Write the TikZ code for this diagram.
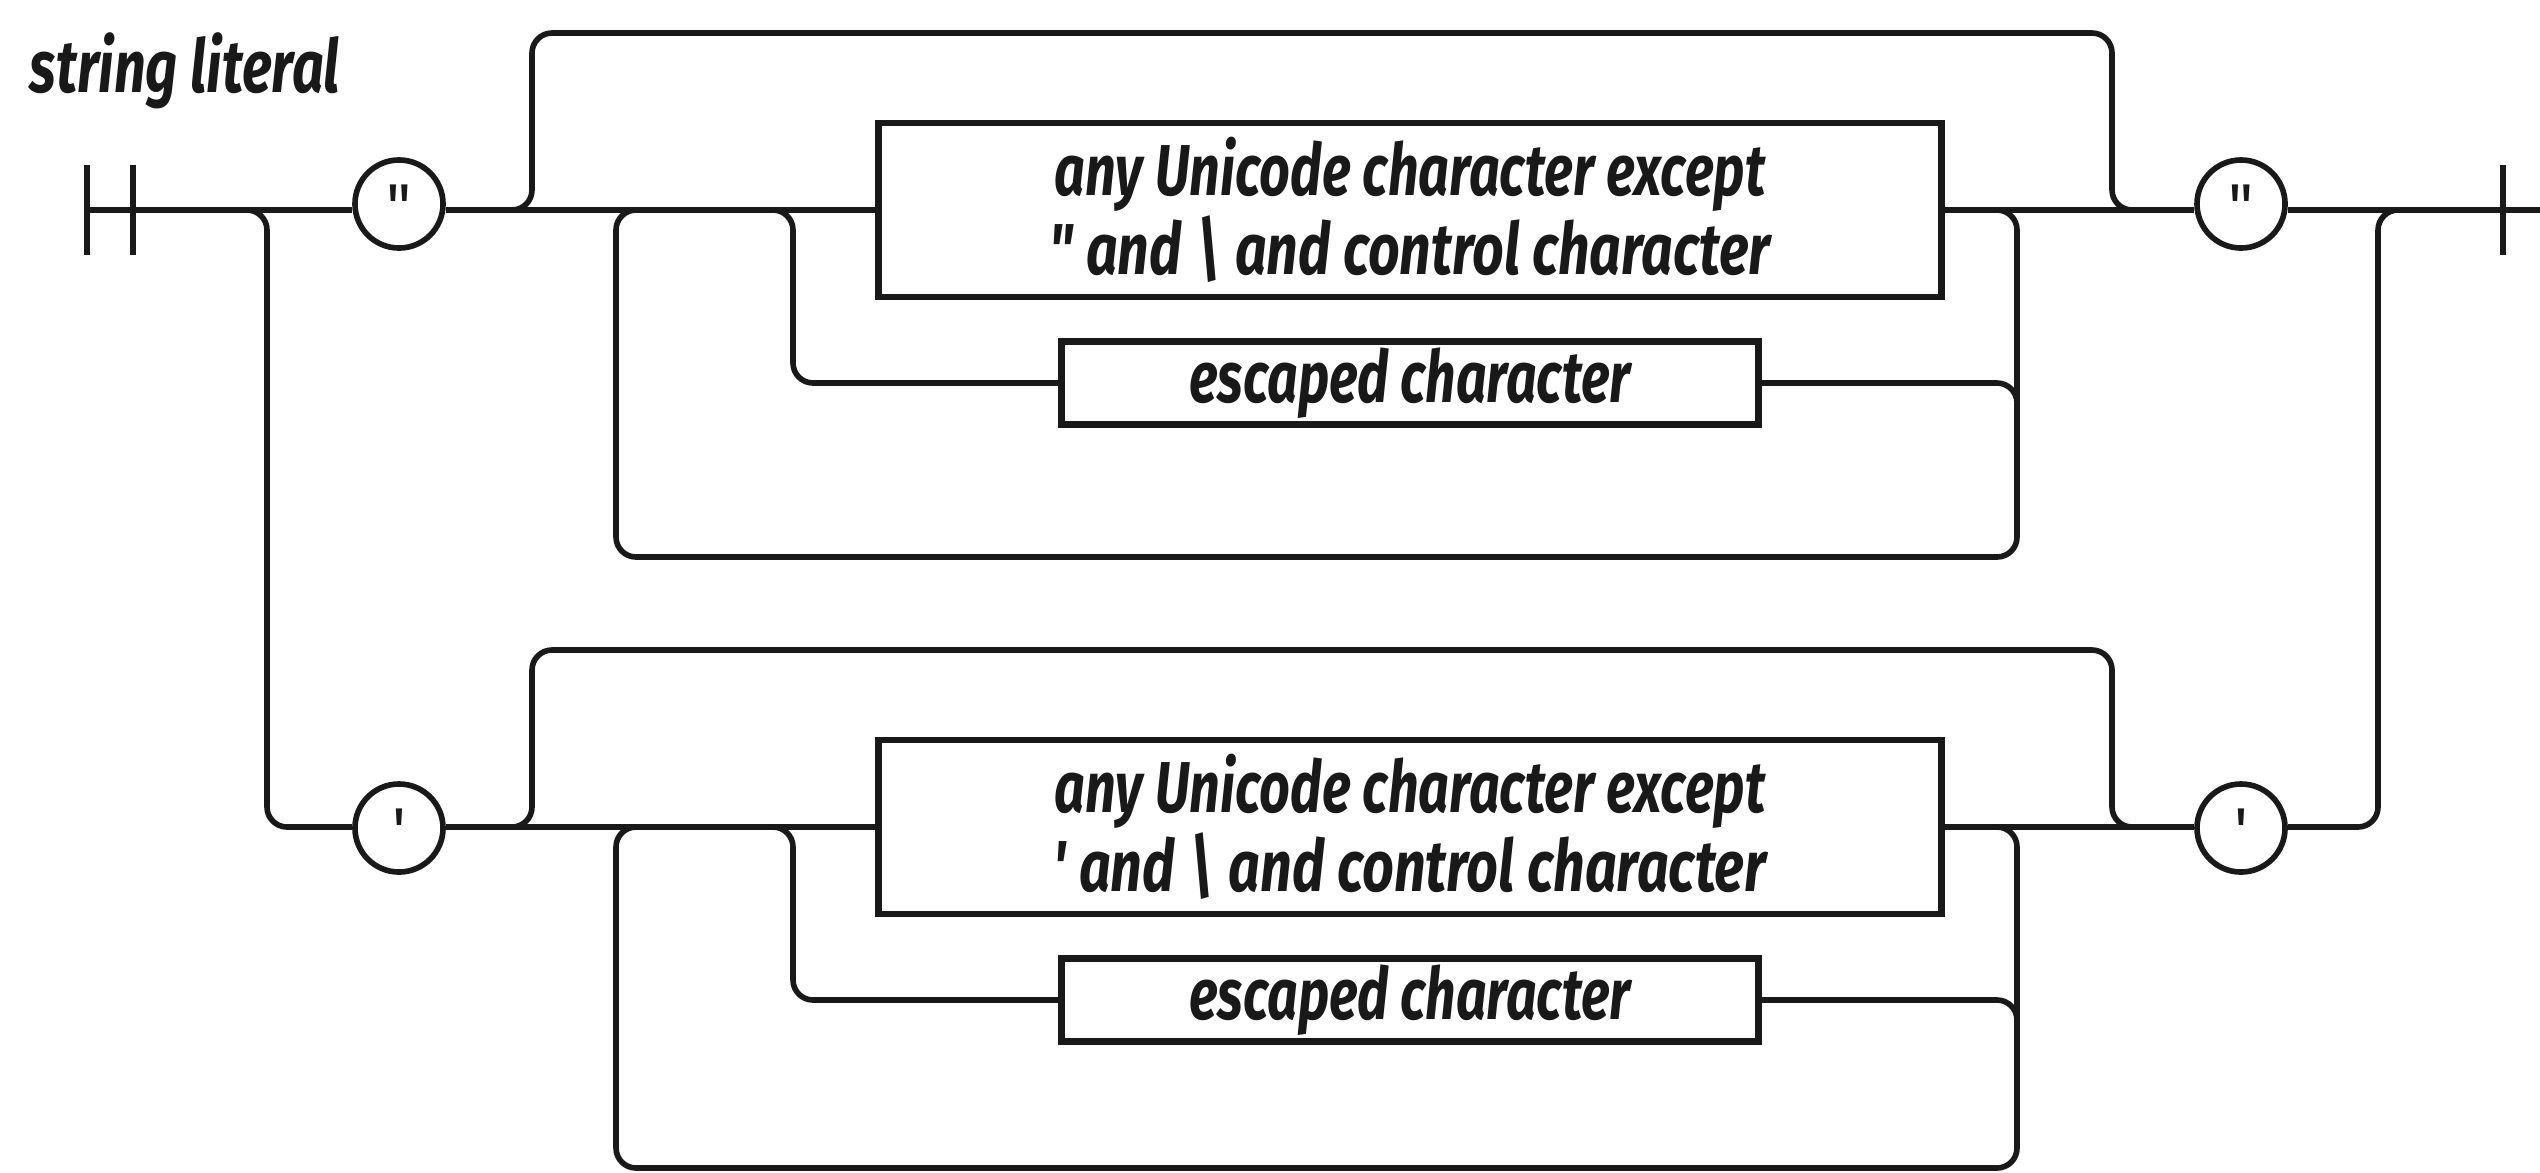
\documentclass[tikz,border=0pt]{standalone}
\usepackage{fontspec}
\usepackage{graphicx}
\newfontfamily\rrfont{Fira Sans}
\newcommand\fitto[2]{\resizebox{#1}{\height}{#2}}
\begin{document}
\begin{tikzpicture}[x=0.01cm, y=-0.01cm,
  rr/.style={line width=1.6pt, rounded corners=0.2cm, color=black!90},
  barline/.style={line width=1.6pt, color=black!90},
  term/.style={circle, draw, line width=1.6pt, minimum size=0.88cm, inner sep=0pt,
    text height=14pt, text depth=0pt,
    font=\rrfont\fontsize{18}{18}\selectfont, color=black!90},
  nterm/.style={rectangle, draw, line width=1.9pt, inner sep=0pt, align=center, color=black!90,
    font=\rrfont\bfseries\itshape\fontsize{20.5}{20.6}\selectfont},
  ttl/.style={anchor=base west, inner sep=0pt, font=\rrfont\bfseries\itshape\fontsize{21}{21}\selectfont, color=black!90}
]
\useasboundingbox[fill=white] (0,0) rectangle (2540,1172);

% title
\node[ttl] (title) at (29,92) {\fitto{3.10cm}{string literal}};

% start / end bars
\coordinate (s1) at (87,210);
\coordinate (s2) at (133,210);
\coordinate (e1) at (2503,210);
\coordinate (eR) at (2540,210);
\draw[barline] (s1) ++(0,-45) -- ++(0,90);
\draw[barline] (s2) ++(0,-45) -- ++(0,90);
\draw[barline] (e1) ++(0,-45) -- ++(0,90);

% ---------- upper row ----------
\node[term] (q1) at (399,204) {\textquotedbl};
\node[term] (q2) at (2241,204) {\textquotedbl};
\node[nterm, minimum width=10.62cm, minimum height=1.74cm] (box1) at (1410,210)
  {\fitto{7.10cm}{any Unicode character except}\\
   \fitto{7.20cm}{\textquotedbl{} and \textbackslash{} and control character}};
\node[nterm, minimum width=6.97cm, minimum height=0.83cm] (esc1) at (1410,383)
  {\fitto{4.41cm}{escaped character}};

% ---------- lower row ----------
\node[term] (q3) at (399,828) {\textquotesingle};
\node[term] (q4) at (2241,828) {\textquotesingle};
\node[nterm, minimum width=10.62cm, minimum height=1.74cm] (box2) at (1410,827)
  {\fitto{7.10cm}{any Unicode character except}\\
   \fitto{7.12cm}{\textquotesingle{} and \textbackslash{} and control character}};
\node[nterm, minimum width=6.97cm, minimum height=0.83cm] (esc2) at (1410,1000)
  {\fitto{4.41cm}{escaped character}};

% junction coordinates
\coordinate (jL) at (267,210);
\coordinate (jR) at (2378,210);
\coordinate (jL2) at (267,827);
\coordinate (jR2) at (2378,827);
% upper
\coordinate (byL1) at (532,210);  \coordinate (byTL1) at (532,33);
\coordinate (byR1) at (2112,210); \coordinate (byTR1) at (2112,33);
\coordinate (lpL1) at (616,210);  \coordinate (lpBL1) at (616,557);
\coordinate (lpR1) at (2017,210); \coordinate (lpBR1) at (2017,557);
\coordinate (esL1) at (793,210);
% lower
\coordinate (byL2) at (532,827);  \coordinate (byTL2) at (532,650);
\coordinate (byR2) at (2112,827); \coordinate (byTR2) at (2112,650);
\coordinate (lpL2) at (616,827);  \coordinate (lpBL2) at (616,1168);
\coordinate (lpR2) at (2017,827); \coordinate (lpBR2) at (2017,1168);
\coordinate (esL2) at (793,827);

% main line upper
\draw[rr] (s1) -- (q1.west |- s1);
\draw[rr] (q1.east |- s1) -- (box1);
\draw[rr] (box1) -- (q2.west |- s1);
\draw[rr] (q2.east |- s1) -- (eR);

% main line lower + outer branches
\draw[rr] ([xshift=-0.2cm]jL) -- (jL) -- (jL2) -- (q3.west |- jL2);
\draw[rr] (q3.east |- jL2) -- (box2);
\draw[rr] (box2) -- (q4.west |- jR2);
\draw[rr] (q4.east |- jR2) -- (jR2) -- (jR) -- ([xshift=0.2cm]jR);

% upper bypass, loop, escaped branch
\draw[rr] ([xshift=-0.2cm]byL1) -- (byL1) -- (byTL1) -- (byTR1) -- (byR1) -- ([xshift=0.2cm]byR1);
\draw[rr] ([xshift=-0.2cm]lpR1) -- (lpR1) -- (lpBR1) -- (lpBL1) -- (lpL1) -- ([xshift=0.2cm]lpL1);
\draw[rr] ([xshift=-0.2cm]esL1) -- (esL1) -- (esL1 |- esc1) -- (esc1);
\draw[rr] (esc1) -- (lpR1 |- esc1) -- ([yshift=-0.2cm]lpR1 |- esc1);

% lower bypass, loop, escaped branch
\draw[rr] ([xshift=-0.2cm]byL2) -- (byL2) -- (byTL2) -- (byTR2) -- (byR2) -- ([xshift=0.2cm]byR2);
\draw[rr] ([xshift=-0.2cm]lpR2) -- (lpR2) -- (lpBR2) -- (lpBL2) -- (lpL2) -- ([xshift=0.2cm]lpL2);
\draw[rr] ([xshift=-0.2cm]esL2) -- (esL2) -- (esL2 |- esc2) -- (esc2);
\draw[rr] (esc2) -- (lpR2 |- esc2) -- ([yshift=-0.2cm]lpR2 |- esc2);
\end{tikzpicture}
\end{document}
